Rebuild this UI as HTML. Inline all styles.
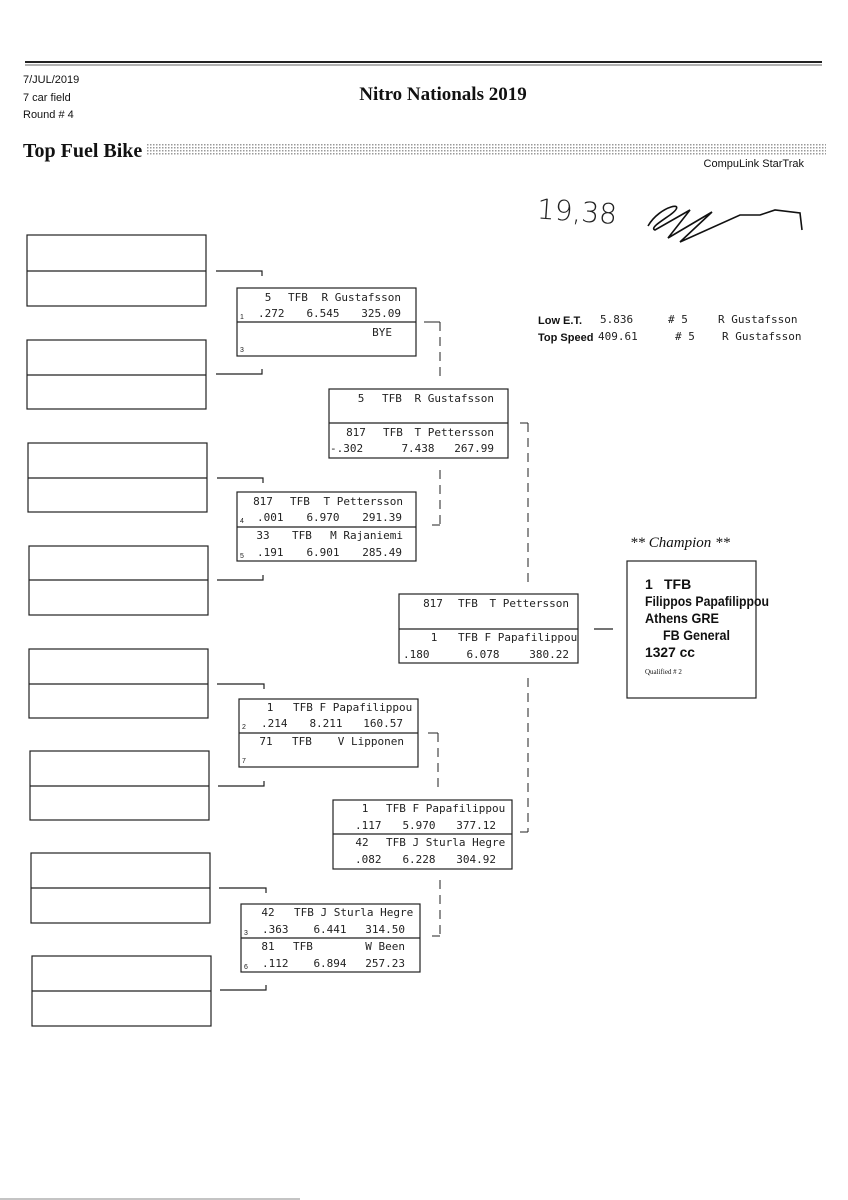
<!DOCTYPE html>
<html><head><meta charset="utf-8"><style>
html,body{margin:0;padding:0;background:#fff;}
svg{display:block}
.m{font-family:"DejaVu Sans Mono","Liberation Mono",monospace;font-size:11px;fill:#222}
.s{font-family:"Liberation Sans",sans-serif;font-size:7px;fill:#222}
.h{font-family:"Liberation Sans",sans-serif;font-size:11px;fill:#111;font-weight:bold}
.n{font-family:"DejaVu Sans Mono",monospace;font-size:11px;fill:#222}
</style></head><body>
<svg width="848" height="1200" viewBox="0 0 848 1200" xmlns="http://www.w3.org/2000/svg">
<defs><pattern id="dots" width="3" height="3" patternUnits="userSpaceOnUse"><rect width="3" height="3" fill="#fff"/><rect width="1.5" height="1.5" fill="#999"/></pattern></defs>
<rect x="0" y="0" width="848" height="1200" fill="#fff"/>
<!-- header -->
<line x1="25" y1="62" x2="822" y2="62" stroke="#222" stroke-width="2"/>
<line x1="25" y1="65" x2="822" y2="65" stroke="#666" stroke-width="1"/>
<text x="23" y="83" class="h" style="font-weight:normal;font-size:11px">7/JUL/2019</text>
<text x="23" y="101" class="h" style="font-weight:normal;font-size:11px">7 car field</text>
<text x="23" y="118" class="h" style="font-weight:normal;font-size:11px">Round # 4</text>
<text x="443" y="100" text-anchor="middle" font-family="Liberation Serif,serif" font-weight="bold" font-size="19" fill="#111">Nitro Nationals 2019</text>
<text x="23" y="157" font-family="Liberation Serif,serif" font-weight="bold" font-size="20" fill="#111">Top Fuel Bike</text>
<rect x="147" y="143" width="679" height="13" fill="url(#dots)"/>
<text x="804" y="167" text-anchor="end" font-family="Liberation Sans,sans-serif" font-size="11" fill="#111">CompuLink StarTrak</text>
<!-- handwriting -->
<text x="537" y="220" font-family="DejaVu Sans,sans-serif" font-size="28" fill="#222" transform="rotate(4 560 210)" style="font-weight:100">19,38</text>
<path d="M648 226 C660 205,690 200,670 215 C660 222,650 228,655 230 L690 210 L668 238 L712 212 L680 242 L740 215 L760 215 L775 210 L800 213 L802 230" fill="none" stroke="#111" stroke-width="1.6"/>
<!-- stats -->
<g class="h" style="font-size:11px">
<text x="538" y="324">Low  E.T.</text><text x="538" y="341">Top Speed</text></g>
<g class="n"><text x="600" y="323">5.836</text><text x="668" y="323"># 5</text><text x="718" y="323">R Gustafsson</text>
<text x="598" y="340">409.61</text><text x="675" y="340"># 5</text><text x="722" y="340">R Gustafsson</text></g>
<!-- left empty boxes -->
<g fill="none" stroke="#222" stroke-width="1.2">
<rect x="27" y="235" width="179" height="71"/><line x1="27" y1="271" x2="206" y2="271"/>
<rect x="27" y="340" width="179" height="69"/><line x1="27" y1="375" x2="206" y2="375"/>
<rect x="28" y="443" width="179" height="69"/><line x1="28" y1="478" x2="207" y2="478"/>
<rect x="29" y="546" width="179" height="69"/><line x1="29" y1="580" x2="208" y2="580"/>
<rect x="29" y="649" width="179" height="69"/><line x1="29" y1="684" x2="208" y2="684"/>
<rect x="30" y="751" width="179" height="69"/><line x1="30" y1="786" x2="209" y2="786"/>
<rect x="31" y="853" width="179" height="70"/><line x1="31" y1="888" x2="210" y2="888"/>
<rect x="32" y="956" width="179" height="70"/><line x1="32" y1="991" x2="211" y2="991"/>
<!-- connectors round 1 -->
<path d="M216 271 H262 V276"/><path d="M216 374 H262 V369"/>
<path d="M217 478 H263 V483"/><path d="M217 580 H263 V575"/>
<path d="M217 684 H264 V689"/><path d="M218 786 H264 V781"/>
<path d="M219 888 H266 V893"/><path d="M220 990 H266 V985"/>
<!-- round 2 boxes -->
<rect x="237" y="288" width="179" height="68"/><line x1="237" y1="322" x2="416" y2="322"/>
<rect x="237" y="492" width="179" height="69"/><line x1="237" y1="527" x2="416" y2="527"/>
<rect x="239" y="699" width="179" height="68"/><line x1="239" y1="733" x2="418" y2="733"/>
<rect x="241" y="904" width="179" height="68"/><line x1="241" y1="938" x2="420" y2="938"/>
<!-- round 3 boxes -->
<rect x="329" y="389" width="179" height="69"/><line x1="329" y1="423" x2="508" y2="423"/>
<rect x="333" y="800" width="179" height="69"/><line x1="333" y1="834" x2="512" y2="834"/>
<!-- round 4 -->
<rect x="399" y="594" width="179" height="69"/><line x1="399" y1="629" x2="578" y2="629"/>
<line x1="594" y1="629" x2="613" y2="629"/>
<!-- champion -->
<rect x="627" y="561" width="129" height="137"/>
</g>
<!-- dashed connectors -->
<g fill="none" stroke="#222" stroke-width="1" stroke-dasharray="9,6">
<path d="M424 322 H440" stroke-dasharray="none"/>
<line x1="440" y1="322" x2="440" y2="378"/>
<line x1="440" y1="470" x2="440" y2="525"/>
<path d="M432 525 H440" stroke-dasharray="none"/>
<path d="M520 423 H528" stroke-dasharray="none"/>
<line x1="528" y1="423" x2="528" y2="585"/>
<line x1="528" y1="678" x2="528" y2="832"/>
<path d="M520 832 H528" stroke-dasharray="none"/>
<path d="M428 733 H438" stroke-dasharray="none"/>
<line x1="438" y1="733" x2="438" y2="790"/>
<line x1="440" y1="880" x2="440" y2="936"/>
<path d="M432 936 H440" stroke-dasharray="none"/>
</g>
<!-- round 2 texts -->
<g class="m">
<text x="268" y="301" text-anchor="middle">5</text><text x="288" y="301">TFB</text><text x="401" y="301" text-anchor="end">R Gustafsson</text>
<text x="258" y="317">.272</text><text x="323" y="317" text-anchor="middle">6.545</text><text x="401" y="317" text-anchor="end">325.09</text>
<text x="392" y="336" text-anchor="end">BYE</text>
<text x="263" y="505" text-anchor="middle">817</text><text x="290" y="505">TFB</text><text x="403" y="505" text-anchor="end">T Pettersson</text>
<text x="257" y="521">.001</text><text x="323" y="521" text-anchor="middle">6.970</text><text x="402" y="521" text-anchor="end">291.39</text>
<text x="263" y="539" text-anchor="middle">33</text><text x="292" y="539">TFB</text><text x="403" y="539" text-anchor="end">M Rajaniemi</text>
<text x="257" y="556">.191</text><text x="323" y="556" text-anchor="middle">6.901</text><text x="402" y="556" text-anchor="end">285.49</text>
<text x="270" y="711" text-anchor="middle">1</text><text x="293" y="711">TFB F Papafilippou</text>
<text x="261" y="727">.214</text><text x="326" y="727" text-anchor="middle">8.211</text><text x="403" y="727" text-anchor="end">160.57</text>
<text x="266" y="745" text-anchor="middle">71</text><text x="292" y="745">TFB</text><text x="404" y="745" text-anchor="end">V Lipponen</text>
<text x="268" y="916" text-anchor="middle">42</text><text x="294" y="916">TFB J Sturla Hegre</text>
<text x="262" y="933">.363</text><text x="330" y="933" text-anchor="middle">6.441</text><text x="405" y="933" text-anchor="end">314.50</text>
<text x="268" y="950" text-anchor="middle">81</text><text x="293" y="950">TFB</text><text x="405" y="950" text-anchor="end">W Been</text>
<text x="262" y="967">.112</text><text x="330" y="967" text-anchor="middle">6.894</text><text x="405" y="967" text-anchor="end">257.23</text>
<text x="361" y="402" text-anchor="middle">5</text><text x="382" y="402">TFB</text><text x="494" y="402" text-anchor="end">R Gustafsson</text>
<text x="356" y="436" text-anchor="middle">817</text><text x="383" y="436">TFB</text><text x="494" y="436" text-anchor="end">T Pettersson</text>
<text x="330" y="452">-.302</text><text x="418" y="452" text-anchor="middle">7.438</text><text x="494" y="452" text-anchor="end">267.99</text>
<text x="365" y="812" text-anchor="middle">1</text><text x="386" y="812">TFB F Papafilippou</text>
<text x="355" y="829">.117</text><text x="419" y="829" text-anchor="middle">5.970</text><text x="496" y="829" text-anchor="end">377.12</text>
<text x="362" y="846" text-anchor="middle">42</text><text x="386" y="846">TFB J Sturla Hegre</text>
<text x="355" y="863">.082</text><text x="419" y="863" text-anchor="middle">6.228</text><text x="496" y="863" text-anchor="end">304.92</text>
<text x="433" y="607" text-anchor="middle">817</text><text x="458" y="607">TFB</text><text x="569" y="607" text-anchor="end">T Pettersson</text>
<text x="434" y="641" text-anchor="middle">1</text><text x="458" y="641">TFB F Papafilippou</text>
<text x="403" y="658">.180</text><text x="483" y="658" text-anchor="middle">6.078</text><text x="569" y="658" text-anchor="end">380.22</text>
</g>
<g class="s">
<text x="240" y="319">1</text><text x="240" y="352">3</text>
<text x="240" y="523">4</text><text x="240" y="558">5</text>
<text x="242" y="729">2</text><text x="242" y="763">7</text>
<text x="244" y="935">3</text><text x="244" y="969">6</text>
</g>
<!-- champion text -->
<text x="630" y="547" font-family="Liberation Serif,serif" font-style="italic" font-size="15" fill="#111">** Champion **</text>
<g font-family="Liberation Sans,sans-serif" font-size="14" fill="#111" font-weight="bold">
<text x="645" y="589">1</text><text x="664" y="589">TFB</text>
<text x="645" y="606" textLength="124" lengthAdjust="spacingAndGlyphs">Filippos Papafilippou</text>
<text x="645" y="623" textLength="74" lengthAdjust="spacingAndGlyphs">Athens  GRE</text>
<text x="663" y="640" textLength="67" lengthAdjust="spacingAndGlyphs">FB General</text>
<text x="645" y="657" textLength="50" lengthAdjust="spacingAndGlyphs">1327 cc</text>
</g>
<text x="645" y="674" font-family="Liberation Serif,serif" font-size="7" fill="#111">Qualified # 2</text>
<line x1="0" y1="1199" x2="300" y2="1199" stroke="#888" stroke-width="1"/>
</svg>
</body></html>
